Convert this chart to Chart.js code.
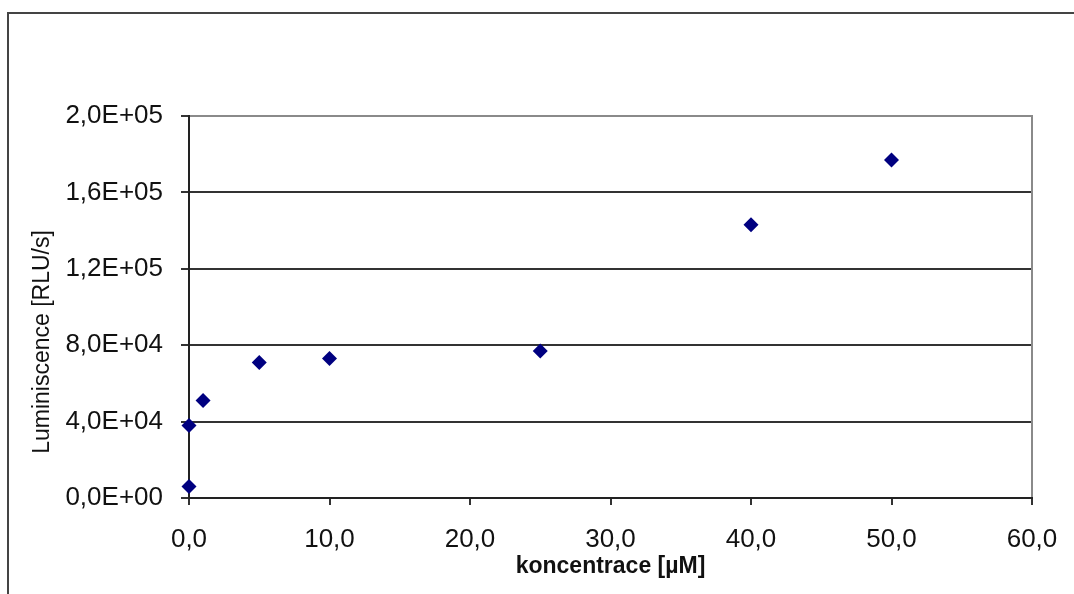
<!DOCTYPE html>
<html>
<head>
<meta charset="utf-8">
<title>Luminiscence</title>
<script src="https://cdn.jsdelivr.net/npm/chart.js@4"></script>
<style>
    body { margin: 0; background: #fff; }
    canvas { display: block; }
</style>
</head>
<body>
<canvas id="lumChart" width="1074" height="594"></canvas>
<script>
const concentrations = [0, 0, 1, 5, 10, 25, 40, 50];
const luminescence = [6000, 38000, 51000, 71000, 73000, 77000, 143000, 177000];
const xTitle = 'koncentrace [µM]';
const yTitle = 'Luminiscence [RLU/s]';

const FONT = '"Liberation Sans", Arial, sans-serif';

// 200000 -> "2,0E+05"
function sciLabel(value) {
    if (value === 0) return '0,0E+00';
    const exp = Math.floor(Math.log10(Math.abs(value)));
    const mant = value / Math.pow(10, exp);
    const sign = exp < 0 ? '-' : '+';
    return mant.toFixed(1).replace('.', ',') + 'E' + sign + String(Math.abs(exp)).padStart(2, '0');
}

// outer frame, plot border and the rotated y title
const decorations = {
    id: 'decorations',
    beforeDraw(chart) {
        const { ctx } = chart;
        ctx.save();
        ctx.strokeStyle = '#444';
        ctx.lineWidth = 2;
        ctx.beginPath();
        ctx.moveTo(8, 594);
        ctx.lineTo(8, 13);
        ctx.lineTo(1074, 13);
        ctx.stroke();
        ctx.restore();
    },
    beforeDatasetsDraw(chart) {
        const { ctx, chartArea: a } = chart;
        ctx.save();
        ctx.strokeStyle = '#8a8a8a';
        ctx.lineWidth = 2;
        ctx.beginPath();
        ctx.moveTo(a.left + 1, a.top);
        ctx.lineTo(a.right, a.top);
        ctx.lineTo(a.right, a.bottom - 1);
        ctx.stroke();
        ctx.restore();
    },
    afterDraw(chart) {
        const { ctx } = chart;
        ctx.save();
        ctx.translate(43, 342);
        ctx.rotate(-Math.PI / 2);
        ctx.fillStyle = '#111';
        ctx.font = '23px ' + FONT;
        ctx.textAlign = 'center';
        ctx.textBaseline = 'middle';
        ctx.fillText(yTitle, 0, 0);
        ctx.restore();
    },
};

const ctx = document.getElementById('lumChart').getContext('2d');
new Chart(ctx, {
    type: 'scatter',
    data: {
        datasets: [
            {
                data: concentrations.map((x, i) => ({ x: x, y: luminescence[i] })),
                pointStyle: 'rectRot',
                pointRadius: 7.5,
                backgroundColor: '#000080',
                borderColor: '#000080',
                borderWidth: 0,
                clip: false,
            },
        ],
    },
    options: {
        responsive: false,
        animation: false,
        layout: { padding: { left: 0, top: 116, right: 42, bottom: 0 } },
        plugins: {
            legend: { display: false },
            tooltip: { enabled: false },
        },
        scales: {
            x: {
                type: 'linear',
                min: 0,
                max: 60,
                afterFit: (scale) => {
                    scale.height = 96;
                    // layout padding already leaves room for the end labels
                    scale.paddingLeft = 0;
                    scale.paddingRight = 0;
                },
                border: { color: '#222', width: 2 },
                grid: {
                    drawOnChartArea: false,
                    drawTicks: true,
                    tickLength: 7,
                    color: '#333',
                    lineWidth: 2,
                },
                ticks: {
                    stepSize: 10,
                    padding: 19,
                    color: '#111',
                    font: { family: FONT, size: 26 },
                    maxRotation: 0,
                    callback: (v) => v.toFixed(1).replace('.', ','),
                },
                title: {
                    display: true,
                    text: xTitle,
                    color: '#111',
                    font: { family: FONT, size: 23, weight: 'bold' },
                    padding: { top: 0, bottom: 14 },
                },
            },
            y: {
                type: 'linear',
                min: 0,
                max: 200000,
                afterFit: (scale) => { scale.width = 189; },
                border: { color: '#222', width: 2 },
                grid: {
                    color: '#333',
                    lineWidth: 2,
                    tickLength: 8,
                },
                ticks: {
                    stepSize: 40000,
                    padding: 18,
                    color: '#111',
                    font: { family: FONT, size: 26 },
                    callback: (v) => sciLabel(v),
                },
            },
        },
    },
    plugins: [decorations],
});
</script>
</body>
</html>
